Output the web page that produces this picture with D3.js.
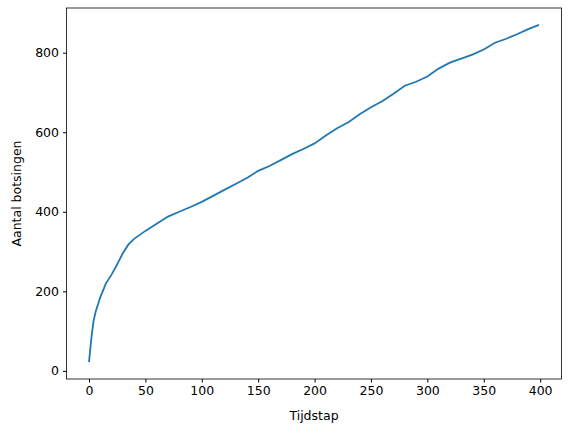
<!DOCTYPE html><html><head><meta charset="utf-8"><script src="https://cdn.jsdelivr.net/npm/d3@7"></script>
<style>body{margin:0;background:#fff}text{font-family:"DejaVu Sans";fill:#000}</style></head><body>
<svg id="c" width="571" height="432"></svg>
<script>
const steps=[0,2,4,6,10,15,20,25,30,35,40,50,60,70,80,90,100,110,120,130,140,150,160,170,180,190,200,210,220,230,240,250,260,270,280,290,300,310,320,330,340,350,360,370,380,390,399];
const collisions=[22,80,125,150,185,220,242,268,296,318,332,352,370,388,400,412,425,440,455,470,485,503,515,530,545,558,572,592,610,625,645,663,678,697,717,727,740,760,775,785,795,808,825,835,847,860,870];
const xTicks=[0,50,100,150,200,250,300,350,400];
const yTicks=[0,200,400,600,800];
const L=66.5,R=561.5,T=8,B=379;
const svg=d3.select("#c");
const x=d3.scaleLinear().domain([-19.95,418.95]).range([L,R]);
const y=d3.scaleLinear().domain([-20.4,912.4]).range([B,T]);
svg.append("g").attr("transform",`translate(0,${B})`).call(d3.axisBottom(x).tickValues(xTicks).tickSize(3.5).tickPadding(4).tickFormat(d3.format("d"))).call(g=>g.select(".domain").remove());
svg.append("g").attr("transform",`translate(${L},0)`).call(d3.axisLeft(y).tickValues(yTicks).tickSize(3.5).tickPadding(4).tickFormat(d3.format("d"))).call(g=>g.select(".domain").remove());
svg.selectAll(".tick text").style("font-size","12.5px").style("font-family","DejaVu Sans");
svg.append("rect").attr("x",L).attr("y",T).attr("width",R-L).attr("height",B-T).attr("fill","none").attr("stroke","#000").attr("stroke-width",0.8);
svg.append("path").datum(steps.map((s,i)=>[s,collisions[i]])).attr("fill","none").attr("stroke","#1f77b4").attr("stroke-width",1.8)
 .attr("d",d3.line().x(d=>x(d[0])).y(d=>y(d[1])));
svg.append("text").attr("x",(L+R)/2).attr("y",420).attr("text-anchor","middle").style("font-size","12.5px").text("Tijdstap");
svg.append("text").attr("transform",`translate(21,${(T+B)/2}) rotate(-90)`).attr("text-anchor","middle").style("font-size","12.5px").text("Aantal botsingen");
</script></body></html>
